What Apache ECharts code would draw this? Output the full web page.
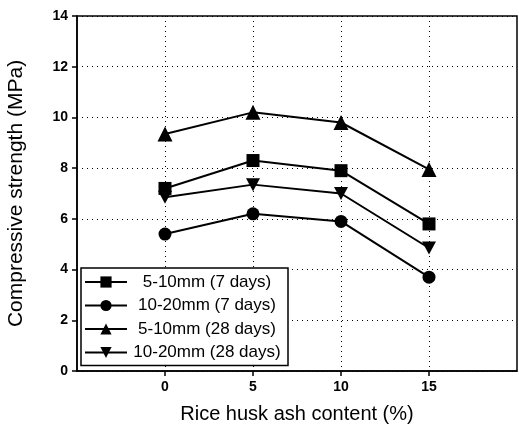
<!DOCTYPE html>
<html>
<head>
<meta charset="utf-8">
<script src="https://cdn.jsdelivr.net/npm/echarts@6/dist/echarts.min.js"></script>
<style>
html, body { margin: 0; padding: 0; background: #fff; }
#chart { width: 519px; height: 436px; }
</style>
</head>
<body>
<div id="chart"></div>
<script>
var ashContent = [0, 5, 10, 15];
var s1 = [7.2, 8.3, 7.9, 5.8];    // 5-10mm (7 days)
var s2 = [5.4, 6.2, 5.9, 3.7];    // 10-20mm (7 days)
var s3 = [9.35, 10.2, 9.8, 7.95]; // 5-10mm (28 days)
var s4 = [6.85, 7.35, 7.0, 4.85]; // 10-20mm (28 days)
var names = ['5-10mm (7 days)', '10-20mm (7 days)', '5-10mm (28 days)', '10-20mm (28 days)'];
var symbols = ['rect', 'circle', 'triangle', 'path://M0,0L2,0L1,2Z'];

function pairs(arr) {
    return ashContent.map(function (x, i) { return [x, arr[i]]; });
}

var Chart1 = echarts.init(document.getElementById('chart'));
var dotted = { color: '#000', type: [1, 4], width: 1 };

option = {
    backgroundColor: '#fff',
    animation: false,
    grid: {
        left: 77, right: 2, top: 16, bottom: 65,
        outerBoundsMode: 'none',
        show: true, borderColor: '#000', borderWidth: 1.5
    },
    legend: {
        left: 81, top: 268, orient: 'vertical',
        itemWidth: 42, itemHeight: 14, itemGap: 3.5,
        padding: [4, 6, 3, 3],
        backgroundColor: '#fff',
        borderColor: '#000', borderWidth: 1.5,
        data: names,
        formatter: function (n) { return '{a|' + n + '}'; },
        textStyle: {
            color: '#000',
            fontFamily: 'Liberation Sans, Arial',
            fontSize: 17,
            rich: { a: { width: 150, height: 20, lineHeight: 20, align: 'center', fontSize: 17, color: '#000' } }
        }
    },
    xAxis: {
        type: 'value', min: -5, max: 20, interval: 5,
        name: 'Rice husk ash content (%)',
        nameLocation: 'middle', nameGap: 33,
        nameTextStyle: { color: '#000', fontSize: 20, fontFamily: 'Liberation Sans, Arial' },
        axisLine: { lineStyle: { color: '#000', width: 1.5 } },
        axisTick: { inside: false, length: 5, customValues: ashContent, lineStyle: { color: '#000', width: 1.5 } },
        axisLabel: {
            customValues: ashContent, margin: 9,
            color: '#000', fontWeight: 'bold', fontSize: 14, fontFamily: 'Liberation Sans, Arial'
        },
        splitLine: { show: true, lineStyle: dotted }
    },
    yAxis: {
        type: 'value', min: 0, max: 14, interval: 2,
        name: 'Compressive strength (MPa)',
        nameLocation: 'middle', nameGap: 50,
        nameTextStyle: { color: '#000', fontSize: 21, fontFamily: 'Liberation Sans, Arial' },
        axisLine: { show: true, onZero: false, lineStyle: { color: '#000', width: 1.5 } },
        axisTick: { show: true, inside: false, length: 5, lineStyle: { color: '#000', width: 1.5 } },
        axisLabel: { margin: 9, color: '#000', fontWeight: 'bold', fontSize: 14, fontFamily: 'Liberation Sans, Arial' },
        splitLine: { show: true, lineStyle: dotted }
    },
    series: [s1, s2, s3, s4].map(function (arr, i) {
        return {
            name: names[i],
            type: 'line',
            data: pairs(arr),
            symbol: symbols[i],
            symbolSize: i === 2 ? 15 : (i === 3 ? [14, 13] : 13),
            itemStyle: { color: '#000' },
            lineStyle: { color: '#000', width: 2 }
        };
    })
};
Chart1.setOption(option);
</script>
</body>
</html>
